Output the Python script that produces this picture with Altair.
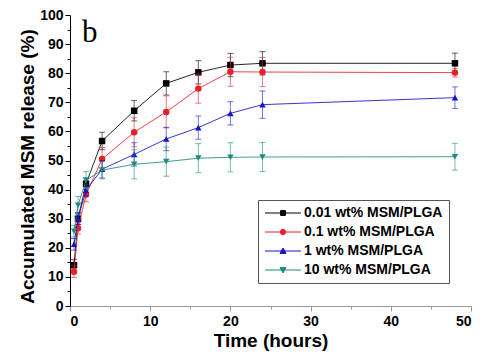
import altair as alt
import pandas as pd

times = [0.5, 1, 2, 4, 8, 12, 16, 20, 24, 48]
series_names = ["0.01 wt% MSM/PLGA", "0.1 wt% MSM/PLGA", "1 wt% MSM/PLGA", "10 wt% MSM/PLGA"]
s1 = [14.0, 30.0, 42.0, 56.7, 67.1, 76.5, 80.3, 82.8, 83.4, 83.4]
s2 = [11.8, 26.7, 38.3, 50.5, 59.7, 66.7, 74.7, 80.5, 80.4, 80.2]
s3 = [21.2, 30.1, 39.8, 47.0, 52.1, 57.4, 61.3, 66.2, 69.2, 71.6]
s4 = [25.7, 34.6, 43.2, 46.7, 48.7, 49.6, 50.8, 51.1, 51.2, 51.3]
e1 = [2.0, 2.0, 2.0, 3.0, 3.5, 4.0, 4.0, 4.0, 4.0, 3.5]
e2 = [2.0, 2.0, 2.5, 4.0, 5.0, 5.5, 5.0, 5.0, 5.0, 1.5]
e3 = [2.0, 2.0, 2.0, 3.0, 4.0, 4.0, 4.0, 4.0, 4.7, 3.7]
e4 = [2.0, 3.0, 3.0, 3.0, 5.0, 5.0, 5.0, 5.0, 5.0, 4.6]
colors = ["#000000", "#e8202a", "#1414c8", "#1f8a80"]
shapes = ["square", "circle", "triangle-up", "triangle-down"]

rows = []
for name, vals, errs in zip(series_names, [s1, s2, s3, s4], [e1, e2, e3, e4]):
    for t, v, e in zip(times, vals, errs):
        rows.append({"t": t, "v": v, "lo": v - e, "hi": v + e, "series": name})
df = pd.DataFrame(rows)

legend_paths = [
    "M-1,0H5M1.6,-0.4H2.4V0.4H1.6Z",
    "M-1,0H5M2.45,0A0.45,0.45 0 1,1 1.55,0A0.45,0.45 0 1,1 2.45,0Z",
    "M-1,0H5M2,-0.5L2.5,0.4L1.5,0.4Z",
    "M-1,0H5M2,0.5L2.5,-0.4L1.5,-0.4Z",
]

FONT = "Liberation Sans"
xscale = alt.Scale(domain=[0, 50], nice=False)
yscale = alt.Scale(domain=[0, 100], nice=False)

x_axis = alt.Axis(
    title="Time (hours)", values=list(range(0, 51, 5)),
    labelExpr="datum.value % 10 === 0 ? datum.label : ''", labelOverlap=False,
    tickSize={"condition": {"test": "datum.value % 10 === 0", "value": 5}, "value": 3},
    grid=False, domainColor="#999999", tickColor="#999999",
    labelFont=FONT, labelFontWeight="bold", labelFontSize=14, labelColor="#000",
    titleFont=FONT, titleFontWeight="bold", titleFontSize=19, titleColor="#000",
    labelPadding=3, titlePadding=3,
)
y_axis = alt.Axis(
    title="Accumulated MSM release (%)", values=list(range(0, 101, 5)),
    labelExpr="datum.value % 10 === 0 ? datum.label : ''", labelOverlap=False,
    tickSize={"condition": {"test": "datum.value % 10 === 0", "value": 5}, "value": 3},
    grid=False, domainColor="#000", tickColor="#000",
    labelFont=FONT, labelFontWeight="bold", labelFontSize=14, labelColor="#000",
    titleFont=FONT, titleFontWeight="bold", titleFontSize=19, titleColor="#000",
    labelPadding=2, titlePadding=2, titleY=151,
)

base = alt.Chart(df)
X = alt.X("t:Q", scale=xscale, axis=x_axis)
def Yf(field):
    return alt.Y(field, scale=yscale, axis=y_axis)

layers = []
for name, shp, col in zip(series_names, shapes, colors):
    sub = base.transform_filter(alt.datum.series == name)
    layers.append(sub.mark_line(strokeWidth=1, opacity=0.85, color=col).encode(x=X, y=Yf("v:Q")))
    layers.append(sub.mark_rule(strokeWidth=1, opacity=0.6, color=col).encode(
        x=X, y=Yf("lo:Q"), y2="hi:Q"))
    layers.append(sub.mark_tick(thickness=1, size=6, orient="horizontal", opacity=0.6, color=col).encode(
        x=X, y=Yf("hi:Q")))
    layers.append(sub.mark_tick(thickness=1, size=6, orient="horizontal", opacity=0.6, color=col).encode(
        x=X, y=Yf("lo:Q")))
    layers.append(sub.mark_point(filled=True, size=42, opacity=1, shape=shp, color=col).encode(
        x=X, y=Yf("v:Q")))

leg = alt.Legend(title=None, orient="none", legendX=188, legendY=185,
                 strokeColor="#555555", padding=6, symbolSize=144,
                 symbolStrokeWidth=1, labelOffset=26, rowPadding=5,
                 labelFont=FONT, labelFontWeight="bold", labelFontSize=14,
                 labelColor="#000", symbolOpacity=1)
legend_layer = base.mark_point(filled=True, opacity=0, size=144, strokeWidth=1).encode(
    x=X, y=Yf("v:Q"),
    color=alt.Color("series:N", scale=alt.Scale(domain=series_names, range=colors), legend=leg),
    stroke=alt.Stroke("series:N", scale=alt.Scale(domain=series_names, range=colors), legend=leg),
    shape=alt.Shape("series:N", scale=alt.Scale(domain=series_names, range=legend_paths), legend=leg),
)
layers.append(legend_layer)
label_b = alt.Chart(pd.DataFrame({"txt": ["b"]})).mark_text(
    font="Liberation Serif", fontSize=31, align="left", baseline="alphabetic", color="#000"
).encode(text="txt:N", x=alt.value(12), y=alt.value(27))
layers.append(label_b)

chart = alt.layer(*layers).properties(
    width=401, height=291,
    autosize=alt.AutoSizeParams(type="none"),
    padding={"left": 62, "top": 7, "right": 20, "bottom": 50},
).configure_view(stroke=None).configure_axis(domainWidth=1, tickWidth=1)

chart.save("out.html", embed_options={"renderer": "svg", "actions": False})
